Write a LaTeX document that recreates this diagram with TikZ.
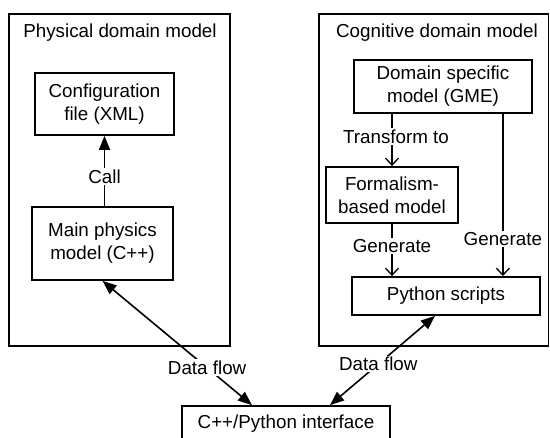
\documentclass[tikz,border=0pt]{standalone}
\usepackage{fontspec}
\setmainfont{Liberation Sans}
\usepackage{tikz}
\usetikzlibrary{arrows.meta,positioning}
\tikzset{
	every node/.style = {font=\fontsize{18.8}{23}\selectfont},
	domain/.style = {draw=black, line width=1.8pt, minimum width=#1},% outer domain frame
	block/.style = {draw=black, line width=1.8pt, align=center, inner sep=0pt},% model box
	lbl/.style = {fill=white, inner sep=1.5pt},% label on a connector
	calls/.style = {-{Triangle[length=14pt,width=11pt]}, line width=1.6pt},
	gen/.style = {-{Straight Barb[length=7pt,width=13pt]}, line width=1.3pt},
	flow/.style = {{Triangle[length=14pt,width=11pt]}-{Triangle[length=14pt,width=11pt]},
		line width=1.6pt}
}

\begin{document}
\begin{tikzpicture}[x=1pt,y=-1pt]
\useasboundingbox (0,0) rectangle (550,438);
\clip (0,0) rectangle (550,438);
% domains
\node [domain=221pt, minimum height=332pt] (phys) at (119.5,180) {};
\node [domain=229.5pt, minimum height=332pt] (cog) at (433.75,180) {};
\node [inner sep=0pt] (physT) at (120,33) {Physical domain model};
\node [inner sep=0pt] (cogT) at (437,33) {Cognitive domain model};
% physical side
\node [block, minimum width=139pt, minimum height=62pt] (conf) at (104.5,104) {Configuration\\file (XML)};
\node [block, minimum width=141pt, minimum height=73pt] (mainm) at (102.5,243.5) {Main physics\\model (C++)};
% cognitive side
\node [block, minimum width=178pt, minimum height=53pt] (dsm) at (443,86.5) {Domain specific\\model (GME)};
\node [block, minimum width=132pt, minimum height=56pt] (formal) at (392,195) {Formalism-\\based model};
\node [block, minimum width=188pt, minimum height=38pt] (python) at (446,296) {Python scripts};
% interface
\node [block, minimum width=208pt, minimum height=36pt] (iface) at (286,424) {C++/Python interface};

\draw [calls] (conf.south |- mainm.north) -- node [lbl, pos=0.42] {Call} (conf.south);
\draw [gen] (formal.north |- dsm.south) -- node [lbl, pos=0.43, xshift=4pt] {Transform to} (formal.north);
\draw [gen] (formal.south) -- node [lbl, pos=0.43] {Generate} (formal.south |- python.north);
\draw [gen] ([xshift=-30pt]dsm.south east) -- node [lbl, pos=0.77] {Generate}
	([xshift=-30pt]dsm.south east |- python.north);
\draw [flow] ([xshift=-34pt]iface.north) -- node [lbl, pos=0.30] {Data flow} (mainm.south);
\draw [flow] ([xshift=44pt]iface.north) -- node [lbl, pos=0.46] {Data flow} ([xshift=-11pt]python.south);
\end{tikzpicture}
\end{document}
